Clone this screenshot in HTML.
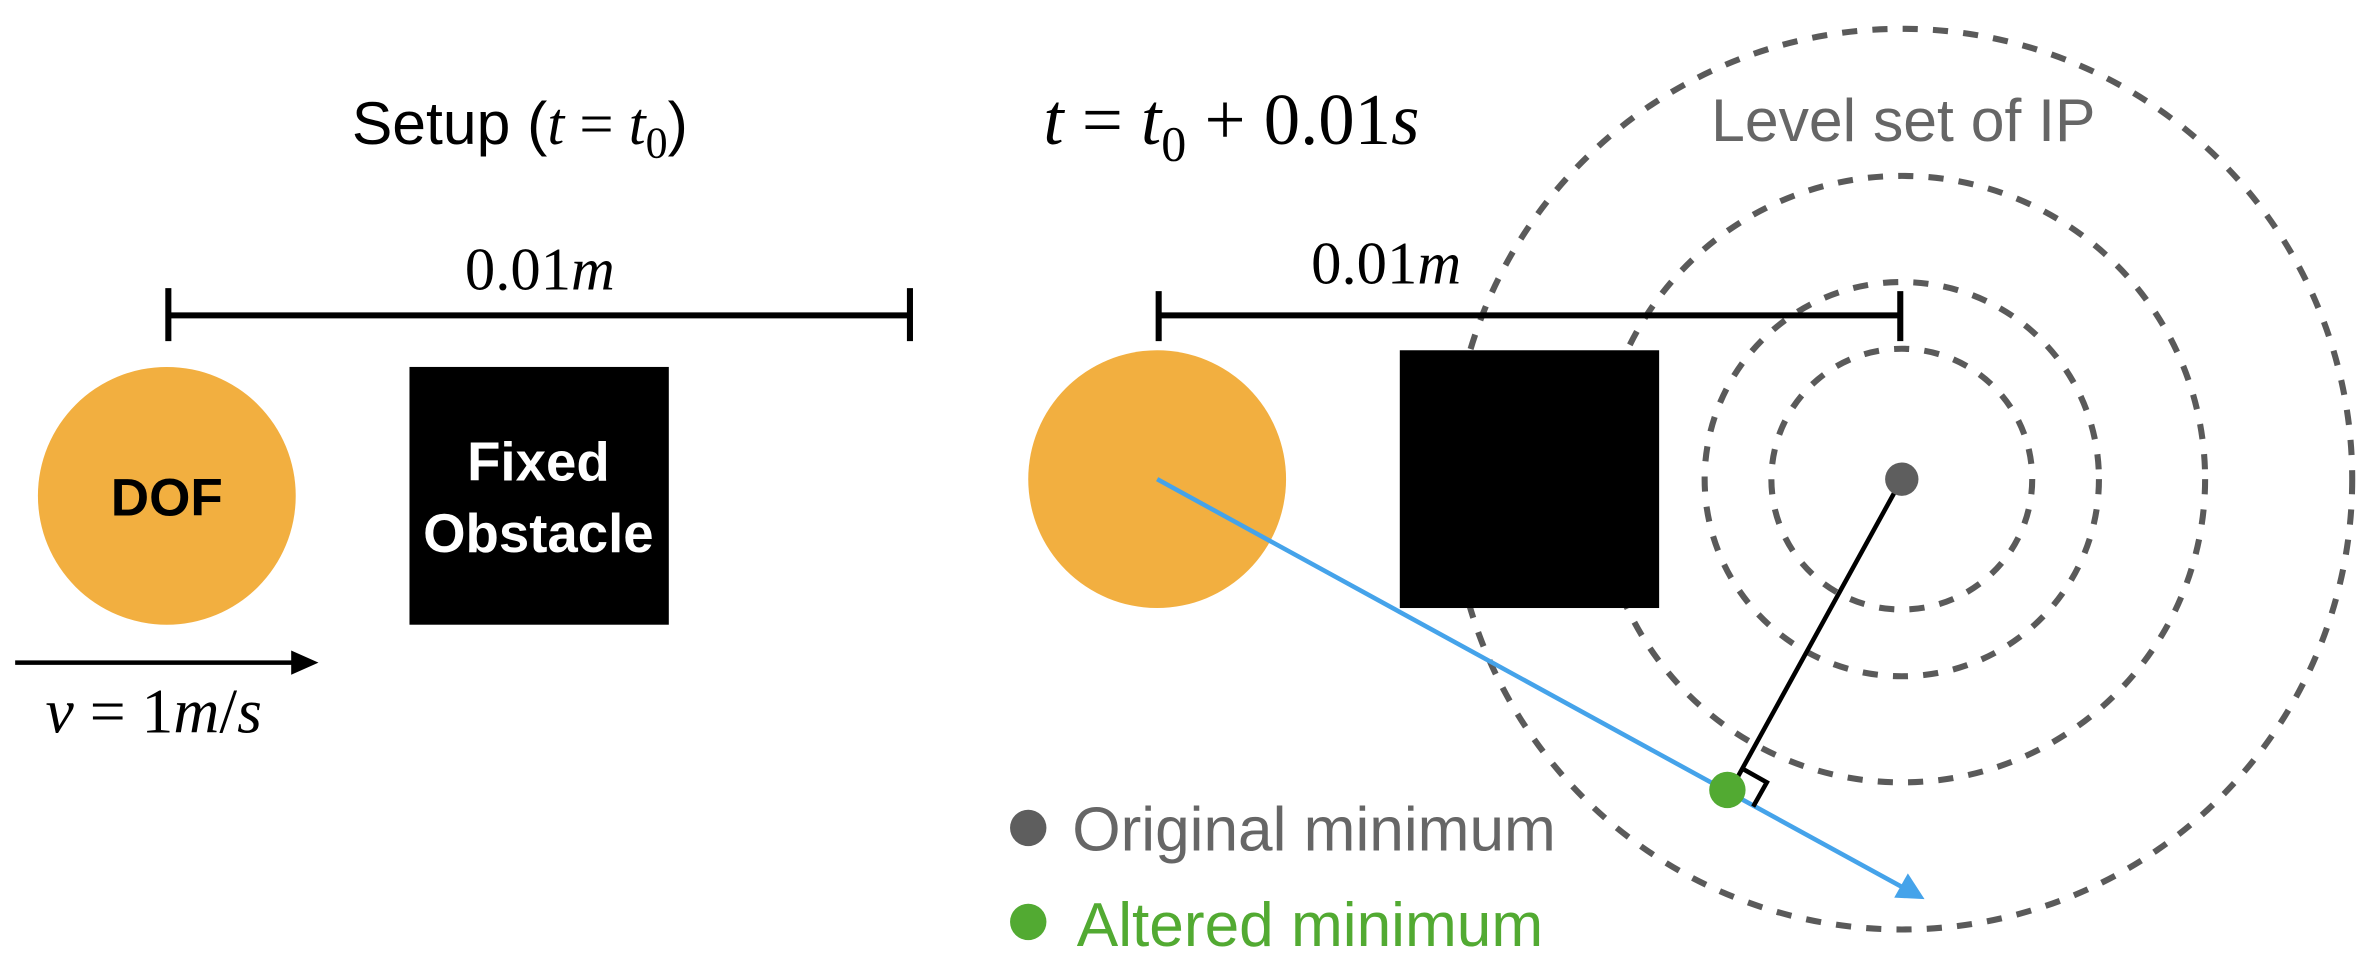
<!DOCTYPE html>
<html><head><meta charset="utf-8"><style>
html,body{margin:0;padding:0;background:#fff;}
svg{display:block;}
.sans{font-family:"Liberation Sans",sans-serif;}
.serif{font-family:"Liberation Serif",serif;}
</style></head><body>
<svg width="2378" height="978" viewBox="0 0 1568 645" preserveAspectRatio="none" xmlns="http://www.w3.org/2000/svg">
<rect width="1568" height="645" fill="#fff"/>
<text x="232" y="95" class="sans" font-size="40" fill="#000">Setup (<tspan class="serif" font-style="italic">t</tspan><tspan class="serif"> = </tspan><tspan class="serif" font-style="italic">t</tspan><tspan class="serif" font-size="29" dy="9">0</tspan><tspan dy="-9">)</tspan></text>
<text x="356" y="191" class="serif" font-size="40" text-anchor="middle">0.01<tspan font-style="italic">m</tspan></text>
<line x1="111" y1="208" x2="600" y2="208" stroke="#000" stroke-width="4"/>
<line x1="111" y1="190" x2="111" y2="225" stroke="#000" stroke-width="4"/>
<line x1="600" y1="190" x2="600" y2="225" stroke="#000" stroke-width="4"/>
<circle cx="110" cy="327" r="85" fill="#F2AF40"/>
<text x="110" y="340" class="sans" font-size="35" font-weight="bold" text-anchor="middle">DOF</text>
<rect x="270" y="242" width="171" height="170" fill="#000"/>
<text x="355" y="317" class="sans" font-size="36" font-weight="bold" fill="#fff" text-anchor="middle">Fixed</text>
<text x="355" y="364" class="sans" font-size="36" font-weight="bold" fill="#fff" text-anchor="middle">Obstacle</text>
<line x1="10" y1="437" x2="195" y2="437" stroke="#000" stroke-width="3"/>
<polygon points="210,437 192,429 192,445" fill="#000"/>
<text x="30" y="483" class="serif" font-size="42"><tspan font-style="italic">v</tspan> = 1<tspan font-style="italic">m</tspan>/<tspan font-style="italic">s</tspan></text>
<text x="688" y="95" class="serif" font-size="48"><tspan font-style="italic">t</tspan> = <tspan font-style="italic">t</tspan><tspan font-size="33" dy="11">0</tspan><tspan dy="-11"> + 0.01</tspan><tspan font-style="italic">s</tspan></text>
<text x="1255" y="93" class="sans" font-size="40" fill="#666" text-anchor="middle">Level set of IP</text>
<g fill="none" stroke="#5a5a5a" stroke-width="4" stroke-dasharray="10 10">
<circle cx="1254" cy="316" r="297"/>
<circle cx="1254" cy="316" r="200"/>
<circle cx="1254" cy="316" r="130"/>
<circle cx="1254" cy="316" r="86"/>
</g>
<text x="914" y="187" class="serif" font-size="40" text-anchor="middle">0.01<tspan font-style="italic">m</tspan></text>
<line x1="764" y1="208" x2="1253" y2="208" stroke="#000" stroke-width="4"/>
<line x1="764" y1="192" x2="764" y2="225" stroke="#000" stroke-width="4"/>
<line x1="1253" y1="192" x2="1253" y2="225" stroke="#000" stroke-width="4"/>
<circle cx="763" cy="316" r="85" fill="#F2AF40"/>
<rect x="923" y="231" width="171" height="170" fill="#000"/>
<line x1="763" y1="316" x2="1256" y2="586" stroke="#45A3EA" stroke-width="3"/>
<polygon points="1269,593 1249,592 1258,576" fill="#45A3EA"/>
<line x1="1254" y1="316" x2="1140" y2="523" stroke="#000" stroke-width="3"/>
<polyline points="1149,507 1165,516 1156,532" fill="none" stroke="#000" stroke-width="3"/>
<circle cx="1254" cy="316" r="11" fill="#5e5e5e"/>
<circle cx="1139" cy="521" r="12" fill="#52AA32"/>
<circle cx="678" cy="546" r="12" fill="#5e5e5e"/>
<text x="707" y="561" class="sans" font-size="41" fill="#666">Original minimum</text>
<circle cx="678" cy="608" r="12" fill="#52AA32"/>
<text x="710" y="624" class="sans" font-size="41" fill="#52AA32">Altered minimum</text>
</svg>
</body></html>
